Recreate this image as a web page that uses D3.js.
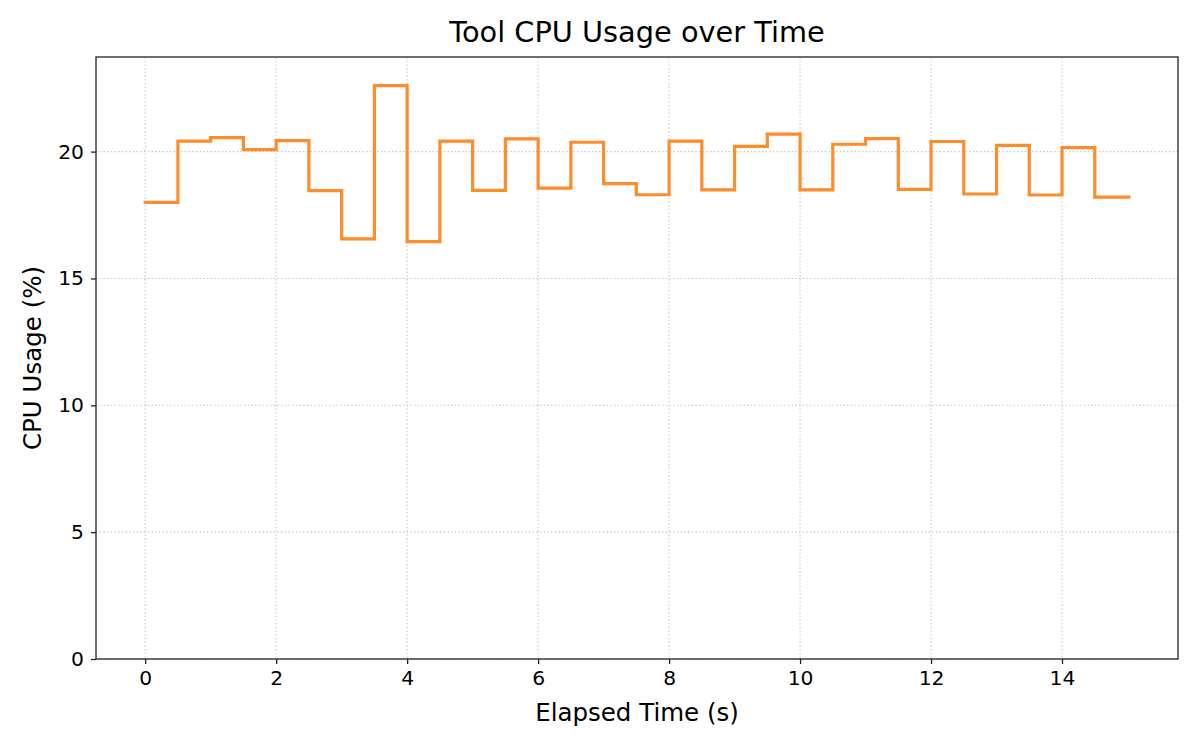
<!DOCTYPE html>
<html>
<head>
<meta charset="utf-8">
<script src="https://cdn.jsdelivr.net/npm/d3@7"></script>
<style>
  html, body { margin: 0; padding: 0; background: #fff; }
  svg text { font-family: "DejaVu Sans", sans-serif; fill: #000; }
</style>
</head>
<body>
<div id="chart"></div>
<script>
// sample times (s) and CPU usage (%), step-after style
const times = [0, 0.5, 1, 1.5, 2, 2.5, 3, 3.5, 4, 4.5, 5, 5.5, 6, 6.5, 7, 7.5,
               8, 8.5, 9, 9.5, 10, 10.5, 11, 11.5, 12, 12.5, 13, 13.5, 14, 14.5, 15.02];
const cpu = [18.0, 20.41, 20.55, 20.08, 20.43, 18.46, 16.56, 22.60, 16.45, 20.41,
             18.47, 20.50, 18.56, 20.37, 18.74, 18.30, 20.41, 18.49, 20.21, 20.69,
             18.49, 20.29, 20.51, 18.51, 20.40, 18.33, 20.25, 18.29, 20.16, 18.21, 18.21];
const xTicks = [0, 2, 4, 6, 8, 10, 12, 14];
const yTicks = [0, 5, 10, 15, 20];

const width = 1200, height = 750;
const margin = { top: 57, right: 22, bottom: 91, left: 96 };
const lineColor = '#fd8c2a';

const svg = d3.select('#chart').append('svg')
  .attr('width', width)
  .attr('height', height);

const points = times.map((t, i) => ({ t, v: cpu[i] }));

// x gets matplotlib-like 5% padding, y runs from 0 to 105% of max
const [tMin, tMax] = d3.extent(times);
const pad = (tMax - tMin) * 0.05;
const x = d3.scaleLinear()
  .domain([tMin - pad, tMax + pad])
  .range([margin.left, width - margin.right]);
const y = d3.scaleLinear()
  .domain([0, d3.max(cpu) * 1.05])
  .range([height - margin.bottom, margin.top]);

// grid
const grid = svg.append('g')
  .attr('stroke', '#c4c4c4')
  .attr('stroke-width', 1.1)
  .attr('stroke-dasharray', '1.4,2.3');
grid.selectAll('line.gx')
  .data(xTicks)
  .join('line')
    .attr('class', 'gx')
    .attr('x1', d => x(d)).attr('x2', d => x(d))
    .attr('y1', margin.top).attr('y2', height - margin.bottom);
grid.selectAll('line.gy')
  .data(yTicks)
  .join('line')
    .attr('class', 'gy')
    .attr('x1', margin.left).attr('x2', width - margin.right)
    .attr('y1', d => y(d)).attr('y2', d => y(d));

// step line
const line = d3.line()
  .x(d => x(d.t))
  .y(d => y(d.v))
  .curve(d3.curveStepAfter);
svg.append('path')
  .datum(points)
  .attr('fill', 'none')
  .attr('stroke', lineColor)
  .attr('stroke-width', 3.2)
  .attr('stroke-linejoin', 'miter')
  .attr('stroke-linecap', 'square')
  .attr('d', line);

// axes
const xAxis = svg.append('g')
  .attr('transform', `translate(0,${height - margin.bottom})`)
  .call(d3.axisBottom(x).tickValues(xTicks).tickSize(5).tickPadding(7).tickFormat(d3.format('d')));
const yAxis = svg.append('g')
  .attr('transform', `translate(${margin.left},0)`)
  .call(d3.axisLeft(y).tickValues(yTicks).tickSize(5).tickPadding(7).tickFormat(d3.format('d')));

[xAxis, yAxis].forEach(ax => {
  ax.select('.domain').remove();
  ax.selectAll('.tick line').attr('stroke', '#222').attr('stroke-width', 1.3);
  ax.selectAll('.tick text').attr('font-size', '20.3px').attr('fill', '#000');
});

// frame
svg.append('rect')
  .attr('x', margin.left)
  .attr('y', margin.top)
  .attr('width', width - margin.left - margin.right)
  .attr('height', height - margin.top - margin.bottom)
  .attr('fill', 'none')
  .attr('stroke', '#222')
  .attr('stroke-width', 1.3);

// title and axis labels
const cx = (margin.left + width - margin.right) / 2;
svg.append('text')
  .attr('x', cx)
  .attr('y', 42)
  .attr('text-anchor', 'middle')
  .attr('font-size', '28.8px')
  .text('Tool CPU Usage over Time');

svg.append('text')
  .attr('x', cx)
  .attr('y', 721)
  .attr('text-anchor', 'middle')
  .attr('font-size', '24.5px')
  .text('Elapsed Time (s)');

svg.append('text')
  .attr('transform', `translate(41,${(margin.top + height - margin.bottom) / 2}) rotate(-90)`)
  .attr('text-anchor', 'middle')
  .attr('font-size', '24.5px')
  .text('CPU Usage (%)');
</script>
</body>
</html>
